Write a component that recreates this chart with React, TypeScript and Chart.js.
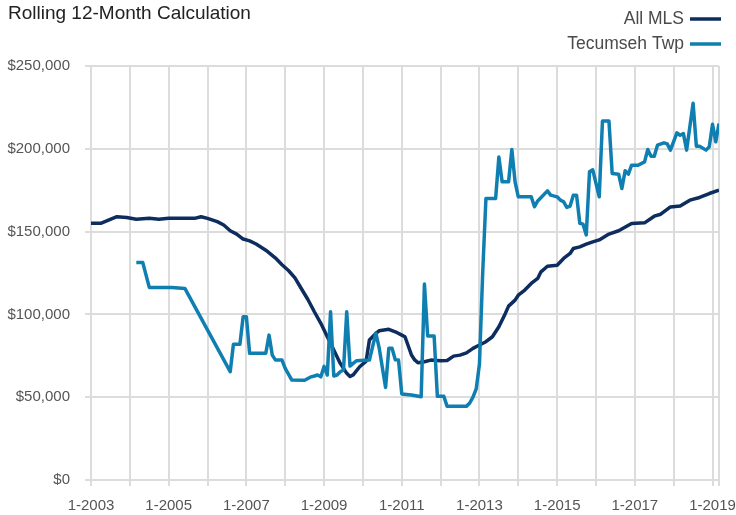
import React, { useEffect, useRef } from "react";
import { Chart, registerables } from "chart.js";

Chart.register(...registerables);

const titleText = "Rolling 12-Month Calculation";
const seriesNames = ["All MLS", "Tecumseh Twp"];
const seriesColors = ["#0c2d5e", "#0f7fb2"];
const startYear = 2003;
const lastMonth = 194;
const yTicks = [0, 50000, 100000, 150000, 200000, 250000];

// months since 1-2003, values in $ thousands
const mlsMonths = [0, 3, 8, 11, 14, 18, 21, 24, 27, 29, 32, 34, 36, 39, 41, 43, 45, 47, 49, 51, 54, 57, 59, 61, 63, 65, 67, 69, 71, 73, 75, 77, 79, 80, 81, 83, 85, 86, 88, 89, 92, 94, 96, 97, 99, 100, 101, 103, 105, 108, 110, 112, 114, 116, 118, 120, 122, 124, 126, 128, 129, 131, 132, 134, 136, 138, 139, 141, 144, 146, 148, 149, 151, 153, 155, 157, 160, 163, 167, 171, 174, 176, 179, 182, 185, 188, 191, 194];
const mlsValues = [155, 155, 159, 158.5, 157.5, 158, 157.5, 158, 158, 158, 158, 159, 158, 156, 154, 150.5, 148.5, 145.5, 144.4, 142.5, 138.8, 134, 130, 126.5, 122, 115.5, 109, 101.6, 94.6, 86.5, 78.5, 70.4, 64.4, 62.5, 63.5, 68.4, 71.8, 84.5, 88.5, 90.1, 91, 89.5, 87.5, 86.5, 75.5, 72.5, 70.8, 71.4, 72.4, 72, 72.2, 74.8, 75.4, 76.8, 79.5, 81.5, 83.5, 86.5, 92.5, 100.6, 105, 108.6, 111.6, 114.7, 118.7, 121.7, 125.7, 129.1, 129.7, 133.8, 136.8, 139.8, 140.8, 142.4, 143.8, 145, 148.5, 150.5, 154.9, 155.3, 159.3, 160.5, 164.9, 165.4, 169, 170.6, 173, 175];

const twpMonths = [14, 16, 18, 25, 29, 43, 44, 46, 47, 48, 49, 54, 55, 56, 57, 59, 60, 62, 66, 68, 69, 70, 71, 72, 73, 74, 75, 76, 77, 78, 79, 80, 81, 82, 86, 88, 89, 91, 92, 93, 94, 95, 96, 99, 102, 103, 104, 106, 107, 109, 110, 116, 117, 118, 119, 120, 121, 122, 125, 126, 127, 129, 130, 131, 132, 136, 137, 138, 141, 142, 144, 145, 146, 147, 148, 149, 150, 151, 152, 153, 154, 155, 157, 158, 160, 161, 163, 164, 165, 166, 167, 169, 171, 172, 173, 174, 175, 177, 178, 179, 181, 182, 183, 184, 186, 187, 188, 190, 191, 192, 193, 194];
const twpValues = [131.3, 131.3, 116.3, 116.3, 115.7, 65.4, 82, 82, 98.6, 98.6, 76.5, 76.5, 87.5, 75.4, 72.4, 72.4, 67.4, 60.4, 60.2, 62.3, 62.8, 63.4, 62.3, 68.6, 63.4, 101.6, 62.8, 63.4, 65.4, 66.4, 101.6, 68.8, 70.4, 72, 72.4, 88.7, 80, 55.9, 79.5, 79.5, 72.6, 72.4, 52, 51.3, 50.3, 118.3, 87, 86.9, 50.5, 50.5, 44.5, 44.5, 46.5, 50, 55, 70, 125, 170, 170, 195.1, 180.1, 180.1, 199.6, 180, 171, 171, 165, 168.5, 174.6, 172, 171, 169, 168, 164.6, 165.4, 172, 172, 155, 154.5, 148, 186.1, 187.3, 171, 216.8, 216.8, 185.1, 184.7, 176, 186.7, 184.7, 190.1, 190.1, 192.1, 199.6, 195.5, 195.5, 202.2, 203.6, 203, 199.2, 209.6, 208.2, 209.2, 199.2, 227.5, 201.6, 201.6, 199.2, 201.2, 214.8, 204.2, 215.3];

const FONT = '"Liberation Sans", Arial, sans-serif';

const toPoints = (months: number[], values: number[]) =>
  months.map((m, i) => ({ x: m, y: values[i] * 1000 }));

const headerPlugin = {
  id: "header",
  afterDraw(chart: any) {
    const ctx = chart.ctx;
    ctx.save();
    ctx.fillStyle = "#222";
    ctx.font = `19px ${FONT}`;
    ctx.textAlign = "left";
    ctx.textBaseline = "alphabetic";
    ctx.fillText(titleText, 8, 19);
    ctx.font = `17.5px ${FONT}`;
    ctx.textAlign = "right";
    ctx.textBaseline = "middle";
    const ys = [19, 44];
    seriesNames.forEach((name, i) => {
      ctx.fillStyle = "#4a4a4a";
      ctx.fillText(name, 684, ys[i]);
      ctx.beginPath();
      ctx.strokeStyle = seriesColors[i];
      ctx.lineWidth = 3.5;
      ctx.moveTo(690, ys[i]);
      ctx.lineTo(721, ys[i]);
      ctx.stroke();
    });
    ctx.restore();
  },
};

export default function App() {
  const ref = useRef<HTMLCanvasElement>(null);
  useEffect(() => {
    document.body.style.margin = "0";
    if (!ref.current) return;
    const chart = new Chart(ref.current, {
      type: "line",
      data: {
        datasets: [
          {
            label: seriesNames[0],
            data: toPoints(mlsMonths, mlsValues),
            borderColor: seriesColors[0],
            backgroundColor: seriesColors[0],
            borderWidth: 3.5,
            pointRadius: 0,
            tension: 0,
            borderJoinStyle: "round",
            order: 2,
          },
          {
            label: seriesNames[1],
            data: toPoints(twpMonths, twpValues),
            borderColor: seriesColors[1],
            backgroundColor: seriesColors[1],
            borderWidth: 3.5,
            pointRadius: 0,
            tension: 0,
            borderJoinStyle: "round",
            order: 1,
          },
        ],
      },
      options: {
        responsive: false,
        animation: false,
        devicePixelRatio: 1,
        layout: { padding: { top: 66, right: 17, left: 0, bottom: 0 } },
        plugins: {
          legend: { display: false },
          title: { display: false },
          tooltip: { enabled: false },
        },
        scales: {
          x: {
            type: "linear",
            min: 0,
            max: lastMonth,
            afterFit: (s: any) => {
              s.height = 35;
            },
            afterBuildTicks: (s: any) => {
              const t = [];
              for (let v = 0; v <= lastMonth; v += 12) t.push({ value: v });
              t.push({ value: lastMonth });
              s.ticks = t;
            },
            ticks: {
              autoSkip: false,
              maxRotation: 0,
              padding: 11,
              color: "#555",
              font: { family: FONT, size: 15 },
              callback: (v: any) =>
                v % 24 === 0 && v <= lastMonth ? `1-${startYear + v / 12}` : "",
            },
            grid: { color: "#dcdcdc", lineWidth: 2, tickLength: 6 },
            border: { color: "#dcdcdc", width: 2 },
          },
          y: {
            min: 0,
            max: 250000,
            afterFit: (s: any) => {
              s.width = 91;
            },
            afterBuildTicks: (s: any) => {
              s.ticks = yTicks.map((v) => ({ value: v }));
            },
            ticks: {
              padding: 15,
              color: "#555",
              font: { family: FONT, size: 15 },
              callback: (v: any) => "$" + Number(v).toLocaleString("en-US"),
            },
            grid: { color: "#dcdcdc", lineWidth: 2, tickLength: 6 },
            border: { color: "#dcdcdc", width: 2 },
          },
        },
      },
      plugins: [headerPlugin],
    });
    return () => chart.destroy();
  }, []);
  return (
    <div style={{ position: "absolute", left: 0, top: 0, width: 736, height: 515 }}>
      <canvas ref={ref} width={736} height={515} />
    </div>
  );
}
